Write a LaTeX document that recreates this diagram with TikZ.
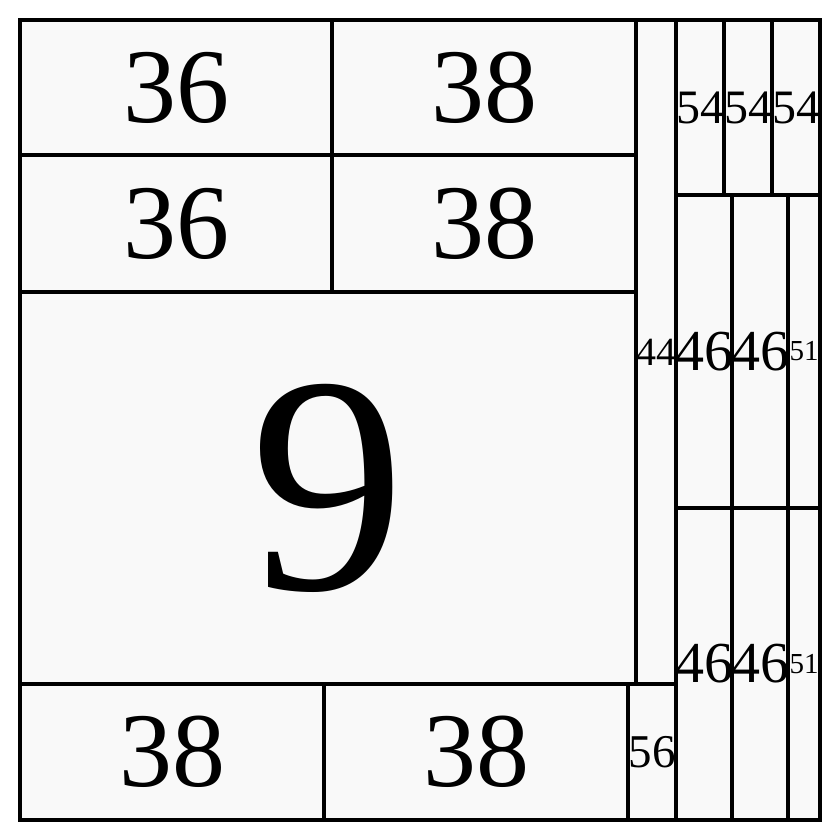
\documentclass[tikz,border=0pt]{standalone}
\usepackage{fontspec}
\setmainfont{Liberation Serif}
\definecolor{cellfill}{HTML}{F9F9F9}
\tikzset{
  cellbox/.style={draw=black, fill=cellfill, line width=3.2pt, inner sep=0pt, outer sep=0pt, rectangle, text=black}
}
\newcommand\mycell[7]{%
  \node[cellbox, minimum width={(#4-#2)*1pt}, minimum height={(#5-#3)*1pt},
        label={[inner sep=0pt, font=\fontsize{#6}{#6}\selectfont]center:#7}]
        (#1) at ({(#2+#4)/2},{(#3+#5)/2}) {};}
\begin{document}
\begin{tikzpicture}[x=1pt,y=-1pt]
\useasboundingbox (0,0) rectangle (840,840);
\mycell{a36}{20}{20}{332}{155}{106}{36}
\mycell{a38}{332}{20}{636}{155}{106}{38}
\mycell{b36}{20}{155}{332}{292}{106}{36}
\mycell{b38}{332}{155}{636}{292}{106}{38}
\mycell{nine}{20}{292}{636}{684}{310}{9}
\mycell{c44}{636}{20}{676}{684}{40}{44}
\mycell{a54}{676}{20}{724}{195}{48}{54}
\mycell{b54}{724}{20}{772}{195}{48}{54}
\mycell{c54}{772}{20}{820}{195}{48}{54}
\mycell{a46}{676}{195}{732}{508}{58}{46}
\mycell{b46}{732}{195}{788}{508}{58}{46}
\mycell{a51}{788}{195}{820}{508}{29}{51}
\mycell{c46}{676}{508}{732}{820}{58}{46}
\mycell{d46}{732}{508}{788}{820}{58}{46}
\mycell{b51}{788}{508}{820}{820}{29}{51}
\mycell{c38}{20}{684}{324}{820}{106}{38}
\mycell{d38}{324}{684}{628}{820}{106}{38}
\mycell{a56}{628}{684}{676}{820}{47}{56}
\end{tikzpicture}
\end{document}
